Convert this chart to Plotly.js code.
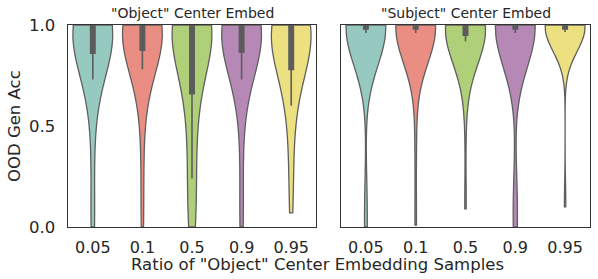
<!DOCTYPE html>
<html>
<head>
<meta charset="utf-8">
<script src="https://cdn.plot.ly/plotly-3.0.1.min.js"></script>
<style>html,body{margin:0;padding:0;background:#fff;}#chart{width:598px;height:279px;}</style>
</head>
<body>
<div id="chart"></div>
<script>
// Categories (ratio of "Object" center embedding samples)
const ratios = ["0.05", "0.1", "0.5", "0.9", "0.95"];
const yTickVals = [0, 0.5, 1.0];
const yTickText = ["0.0", "0.5", "1.0"];
const panelTitles = ['"Object" Center Embed', '"Subject" Center Embed'];
const xLabel = 'Ratio of "Object" Center Embedding Samples';
const yLabel = 'OOD Gen Acc';

// OOD generalization accuracy samples, "Object" Center Embed
const objR005 = [0.0, 0.05, 0.38, 0.6, 0.73, 0.78, 0.83, 0.86, 0.88, 0.9, 0.92, 0.94, 0.96, 0.97, 0.98, 0.99, 1,1,1,1,1,1,1,1,1,1,1,1,1,1];
const objR01  = [0.0, 0.25, 0.55, 0.66, 0.78, 0.82, 0.85, 0.875, 0.89, 0.91, 0.93, 0.95, 0.96, 0.97, 0.98, 0.99, 1,1,1,1,1,1,1,1,1,1,1,1,1,1];
const objR05  = [0.0, 0.05, 0.13, 0.24, 0.36, 0.48, 0.58, 0.66, 0.7, 0.76, 0.82, 0.87, 0.91, 0.95, 0.98, 0.995, 1,1,1,1,1,1,1,1,1,1,1,1,1,1];
const objR09  = [0.0, 0.1, 0.42, 0.64, 0.73, 0.79, 0.83, 0.865, 0.885, 0.9, 0.92, 0.94, 0.96, 0.97, 0.98, 0.99, 1,1,1,1,1,1,1,1,1,1,1,1,1,1];
const objR095 = [0.07, 0.25, 0.4, 0.6, 0.66, 0.71, 0.75, 0.78, 0.82, 0.85, 0.88, 0.91, 0.94, 0.96, 0.98, 0.99, 1,1,1,1,1,1,1,1,1,1,1,1,1,1];

// OOD generalization accuracy samples, "Subject" Center Embed
const subjR005 = [0.0, 0.08, 0.96, 0.965, 0.97, 0.975, 0.975, 0.98, 0.98, 0.985, 0.985, 0.99, 0.99, 0.99, 0.995, 0.995, 1,1,1,1,1,1,1,1,1,1,1,1,1,1];
const subjR01  = [0.01, 0.45, 0.96, 0.965, 0.97, 0.975, 0.975, 0.98, 0.98, 0.985, 0.985, 0.99, 0.99, 0.99, 0.995, 0.995, 1,1,1,1,1,1,1,1,1,1,1,1,1,1];
const subjR05  = [0.09, 0.6, 0.92, 0.93, 0.935, 0.94, 0.945, 0.95, 0.955, 0.96, 0.97, 0.975, 0.98, 0.985, 0.985, 0.99, 1,1,1,1,1,1,1,1,1,1,1,1,1,1];
const subjR09  = [0.0, 0.06, 0.14, 0.96, 0.965, 0.97, 0.975, 0.98, 0.98, 0.985, 0.985, 0.99, 0.99, 0.995, 0.995, 0.995, 1,1,1,1,1,1,1,1,1,1,1,1,1,1];
const subjR095 = [0.1, 0.965, 0.97, 0.97, 0.975, 0.975, 0.98, 0.98, 0.98, 0.985, 0.985, 0.99, 0.99, 0.99, 0.995, 0.995, 1,1,1,1,1,1,1,1,1,1,1,1,1,1];

const objSamples = [objR005, objR01, objR05, objR09, objR095];
const subjSamples = [subjR005, subjR01, subjR05, subjR09, subjR095];

// styling
const colors = ["#96cac1", "#ea8e83", "#afcf78", "#b588b5", "#ede081"];
const objBandwidth = [0.2, 0.19, 0.2, 0.2, 0.19];
const subjBandwidth = [0.19, 0.18, 0.17, 0.2, 0.12];
const edgeGray = "#5f5f5f";
const boxGray = "#5c5c5c";

function makeViolins(samples, bws, xa, ya) {
  return samples.map((ys, i) => ({
    type: "violin",
    x0: ratios[i],
    y: ys,
    xaxis: xa, yaxis: ya,
    name: ratios[i],
    width: 0.8,
    scalemode: "width",
    spanmode: "hard",
    bandwidth: bws[i],
    fillcolor: colors[i],
    opacity: 1,
    line: {color: edgeGray, width: 1.3},
    points: false,
    box: {visible: true, width: 0.11, fillcolor: boxGray, line: {color: boxGray, width: 1.6}},
    meanline: {visible: false},
    hoverinfo: "skip",
    showlegend: false
  }));
}

const data = makeViolins(objSamples, objBandwidth, "x", "y")
  .concat(makeViolins(subjSamples, subjBandwidth, "x2", "y2"));

const W = 598, H = 279;
const px = v => v / W, py = v => 1 - v / H;
const fontFam = "DejaVu Sans, Liberation Sans, sans-serif";
const txt = "#262626";

const xCommon = {
  type: "category", categoryarray: ratios, categoryorder: "array",
  range: [-0.5, 4.5], showline: true, mirror: true, linecolor: "#333", linewidth: 1.4,
  ticks: "", showgrid: false, zeroline: false, fixedrange: true,
  tickfont: {family: fontFam, size: 16, color: txt}, ticklabelstandoff: 5
};
const yCommon = {
  range: [0, 1], showline: true, mirror: true, linecolor: "#333", linewidth: 1.4,
  ticks: "", showgrid: false, zeroline: false, fixedrange: true,
  tickvals: yTickVals, ticktext: yTickText,
  tickfont: {family: fontFam, size: 16.5, color: txt}, ticklabelstandoff: 8
};

const layout = {
  width: W, height: H,
  margin: {l: 0, r: 0, t: 0, b: 0},
  paper_bgcolor: "#fff", plot_bgcolor: "#fff",
  violinmode: "overlay",
  xaxis: Object.assign({}, xCommon, {domain: [px(68), px(316)], anchor: "y"}),
  yaxis: Object.assign({}, yCommon, {domain: [1 - 227 / H, 1 - 25 / H], anchor: "x"}),
  xaxis2: Object.assign({}, xCommon, {domain: [px(341), px(590)], anchor: "y2"}),
  yaxis2: Object.assign({}, yCommon, {domain: [1 - 227 / H, 1 - 25 / H], anchor: "x2", showticklabels: false}),
  annotations: [
    {text: panelTitles[0], x: px(192), y: py(13), xref: "paper", yref: "paper", showarrow: false,
     xanchor: "center", yanchor: "middle", font: {family: fontFam, size: 14, color: txt}},
    {text: panelTitles[1], x: px(465.5), y: py(13), xref: "paper", yref: "paper", showarrow: false,
     xanchor: "center", yanchor: "middle", font: {family: fontFam, size: 14, color: txt}},
    {text: xLabel, x: px(317), y: py(264.5), xref: "paper", yref: "paper", showarrow: false,
     xanchor: "center", yanchor: "middle", font: {family: fontFam, size: 16.5, color: txt}},
    {text: yLabel, x: px(14), y: py(126), xref: "paper", yref: "paper", showarrow: false, textangle: -90,
     xanchor: "center", yanchor: "middle", font: {family: fontFam, size: 16.5, color: txt}}
  ]
};

Plotly.newPlot("chart", data, layout, {displayModeBar: false, staticPlot: true});
</script>
</body>
</html>
